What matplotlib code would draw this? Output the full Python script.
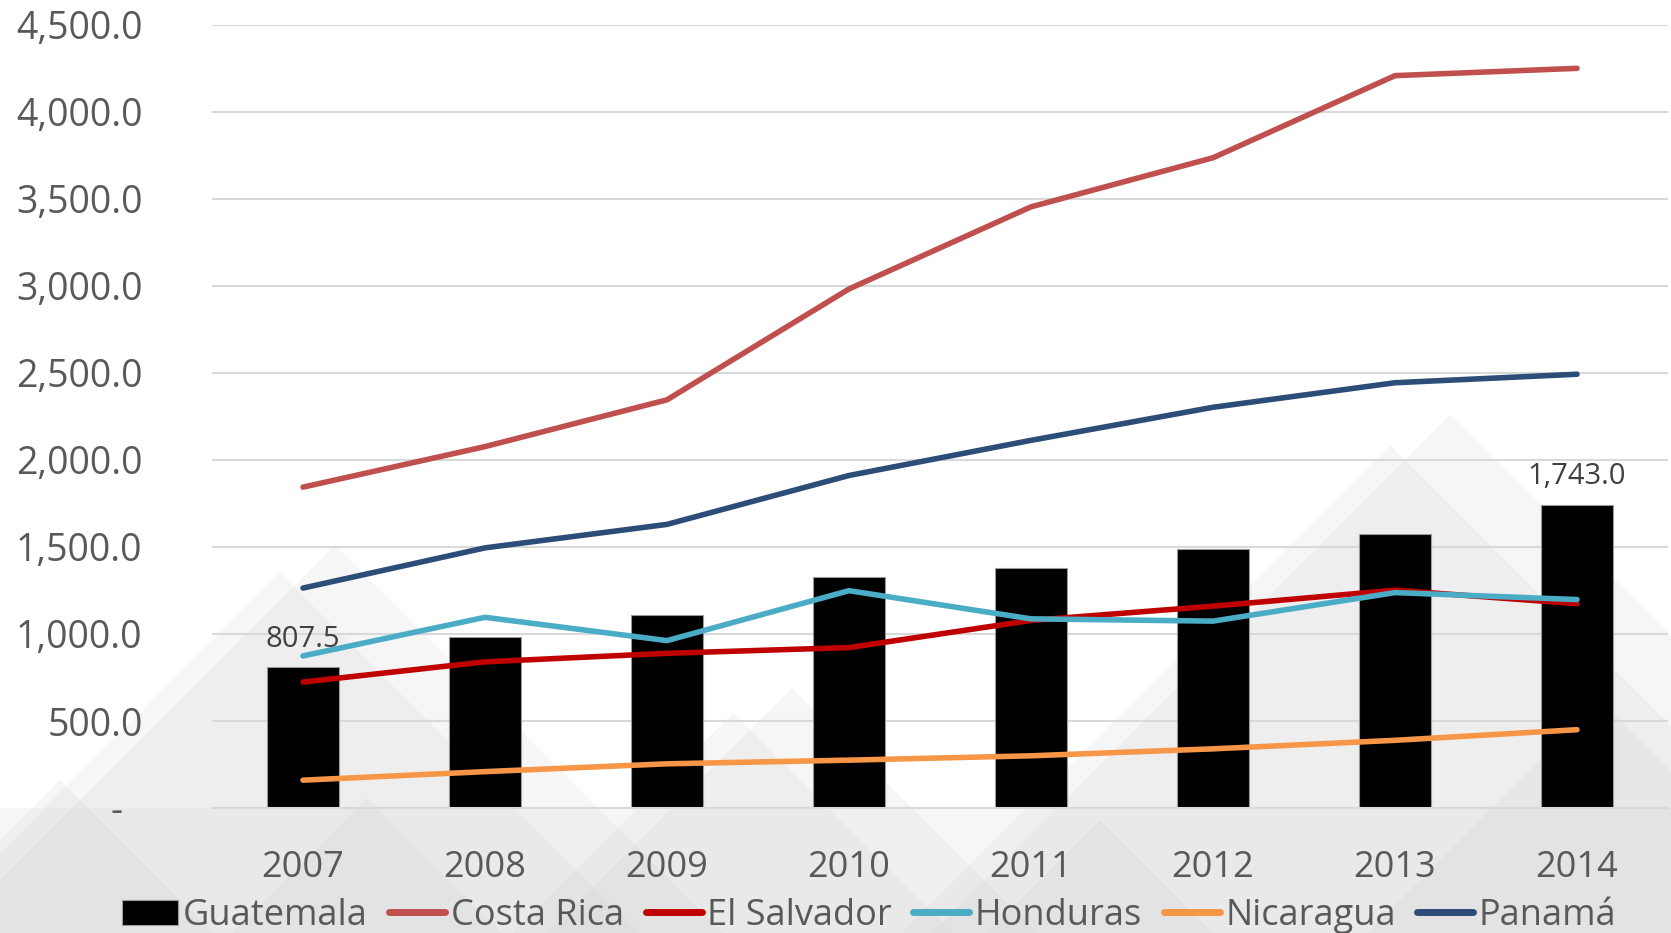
import matplotlib
matplotlib.use("Agg")
import matplotlib.pyplot as plt
from matplotlib.patches import Polygon
import numpy as np

plt.rcParams['font.family'] = ['Open Sans', 'DejaVu Sans']

years = ['2007', '2008', '2009', '2010', '2011', '2012', '2013', '2014']
guatemala = [807.5, 981, 1109, 1328, 1379, 1489, 1577, 1743.0]
costa_rica = [1844, 2077, 2346, 2983, 3455, 3737, 4209, 4251]
el_salvador = [724, 840, 889, 922, 1078, 1160, 1252, 1174]
honduras = [874, 1096, 962, 1249, 1087, 1074, 1238, 1198]
nicaragua = [160, 209, 254, 275, 300, 340, 389, 450]
panama = [1264, 1495, 1630, 1911, 2113, 2303, 2444, 2493]

yticks = [0, 500, 1000, 1500, 2000, 2500, 3000, 3500, 4000, 4500]

W, H = 1671, 933
fig = plt.figure(figsize=(W / 100, H / 100), dpi=100)
fig.patch.set_facecolor('white')

# decorative light-gray mountain background (non-data)
bg_tris = [(1450, 415, 560), (1390, 445, 500), (335, 545, 420), (280, 573, 400),
           (792, 688, 300), (733, 713, 280), (367, 798, 200), (1600, 700, 260),
           (60, 780, 250), (1100, 820, 180)]
for px, py, hw in bg_tris:
    pts = [((px - hw) / W, 1 - (py + hw) / H), (px / W, 1 - py / H), ((px + hw) / W, 1 - (py + hw) / H)]
    fig.patches.append(Polygon(pts, closed=True, transform=fig.transFigure,
                               facecolor='#C8C8C8', alpha=0.16, edgecolor='none', zorder=-2))
fig.patches.append(Polygon([(0, 0), (1, 0), (1, 1 - 808 / H), (0, 1 - 808 / H)], closed=True,
                           transform=fig.transFigure, facecolor='#D8D8D8', alpha=0.22,
                           edgecolor='none', zorder=-2))

ax = fig.add_axes([212 / W, 1 - 808 / H, (1668 - 212) / W, (808 - 25) / H])
ax.set_zorder(1)
ax.set_facecolor('none')
x = np.arange(len(years))

ax.bar(x, guatemala, width=0.4, color='black', edgecolor='#9A9A9A', linewidth=0.8,
       zorder=2, label='Guatemala')
series = [
    ('Costa Rica', costa_rica, '#C0504D'),
    ('El Salvador', el_salvador, '#C00000'),
    ('Honduras', honduras, '#4BACC6'),
    ('Nicaragua', nicaragua, '#F79646'),
    ('Panamá', panama, '#2C4D78'),
]
for name, vals, col in series:
    ax.plot(x, vals, color=col, lw=4.0, solid_capstyle='round', solid_joinstyle='round',
            zorder=3, label=name)

for i in (0, len(x) - 1):
    ax.annotate(f"{guatemala[i]:,.1f}", (x[i], guatemala[i]), xytext=(0, 20),
                textcoords='offset points', ha='center', va='center',
                fontsize=21, color='#404040', zorder=4)

ax.set_xlim(-0.5, len(years) - 0.5)
ax.set_ylim(0, 4500)
ax.set_xticks(x)
ax.set_xticklabels(years, fontsize=26, color='#595959')
ax.set_yticks(yticks)
ax.set_yticklabels([f"{v:,.1f}" if v else "-  " for v in yticks], fontsize=27, color='#595959')
ax.tick_params(axis='both', length=0)
ax.tick_params(axis='y', pad=50)
ax.tick_params(axis='x', pad=30)
ax.yaxis.grid(True, color='#D9D9D9', lw=1.5, zorder=1)
ax.set_axisbelow(True)
for s in ('top', 'right', 'left'):
    ax.spines[s].set_visible(False)
ax.spines['bottom'].set_color('#D9D9D9')
ax.spines['bottom'].set_linewidth(1.5)

handles, labels = ax.get_legend_handles_labels()
order = [labels.index(n) for n in ['Guatemala', 'Costa Rica', 'El Salvador', 'Honduras', 'Nicaragua', 'Panamá']]
leg = fig.legend([handles[i] for i in order], [labels[i] for i in order], loc='center',
                 bbox_to_anchor=(869 / W, 1 - 916 / H), ncol=6, frameon=False, fontsize=26,
                 handlelength=1.55, handletextpad=0.15, columnspacing=0.6, borderpad=0,
                 labelcolor='#595959')
for ln in leg.get_lines():
    ln.set_linewidth(5)
leg.set_zorder(2)

fig.savefig('out.png', dpi=100)
